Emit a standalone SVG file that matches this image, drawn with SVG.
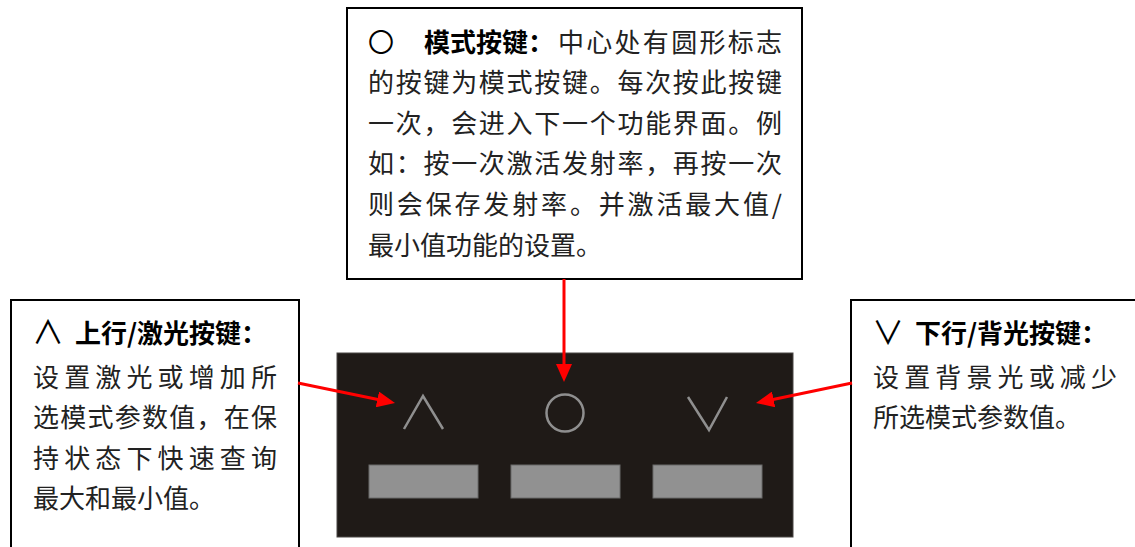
<svg xmlns="http://www.w3.org/2000/svg" width="1135" height="547" viewBox="0 0 1135 547">
<style>
.box{fill:#fff;stroke:#000;stroke-width:2}
.t{font-family:"Noto Sans CJK SC","Liberation Sans",sans-serif;font-size:26px;fill:#222}
.b{font-weight:bold;fill:#000}
.s{font-size:32px;font-weight:normal;fill:#000}
.sym{fill:none;stroke:#8f8f8f;stroke-width:2.5}
.key{fill:#919191;stroke:#6a6a6a;stroke-width:1}
.arr{stroke:#ff0000;stroke-width:3;fill:none}
</style>
<defs>
<marker id="ah" viewBox="0 0 18 16" refX="8" refY="8" markerWidth="18" markerHeight="16" markerUnits="userSpaceOnUse" orient="auto">
<path d="M0,0 L18,8 L0,16 z" fill="#ff0000"/>
</marker>
</defs>
<g id="panel">
<rect x="337" y="353" width="456" height="184" fill="#1f1a17" stroke="#4a4644" stroke-width="1"/>
<polyline class="sym" points="404,429 423,396 443,429"/>
<circle class="sym" cx="565" cy="413" r="18.5"/>
<polyline class="sym" points="688,397 709,430 727,397"/>
<rect class="key" x="369" y="465" width="109" height="33"/>
<rect class="key" x="511" y="465" width="109" height="33"/>
<rect class="key" x="653" y="465" width="109" height="33"/>
</g>
<g id="mode-note">
<rect class="box" x="347" y="8" width="455" height="271"/>
<text class="t"><tspan x="368" y="52" fill="#000">〇</tspan><tspan class="b" x="424" y="52">模式按键：</tspan><tspan x="558" y="52" textLength="224" lengthAdjust="spacing">中心处有圆形标志</tspan></text>
<text class="t" x="368" y="92" textLength="414" lengthAdjust="spacing">的按键为模式按键。每次按此按键</text>
<text class="t" x="368" y="133" textLength="414" lengthAdjust="spacing">一次，会进入下一个功能界面。例</text>
<text class="t" x="368" y="173" textLength="414" lengthAdjust="spacing">如：按一次激活发射率，再按一次</text>
<text class="t" x="368" y="214" textLength="414" lengthAdjust="spacing">则会保存发射率。并激活最大值/</text>
<text class="t" x="368" y="255">最小值功能的设置。</text>
</g>
<g id="up-note">
<rect class="box" x="11" y="300" width="288" height="260"/>
<text class="t"><tspan class="s" x="32" y="344">∧</tspan><tspan class="b" x="75" y="343" textLength="192" lengthAdjust="spacing">上行/激光按键：</tspan></text>
<text class="t" x="33" y="387" textLength="244" lengthAdjust="spacing">设置激光或增加所</text>
<text class="t" x="33" y="427" textLength="244" lengthAdjust="spacing">选模式参数值，在保</text>
<text class="t" x="33" y="468" textLength="244" lengthAdjust="spacing">持状态下快速查询</text>
<text class="t" x="33" y="508">最大和最小值。</text>
</g>
<g id="down-note">
<rect class="box" x="851" y="300" width="300" height="260"/>
<text class="t"><tspan class="s" x="872" y="344">∨</tspan><tspan class="b" x="915" y="343" textLength="192" lengthAdjust="spacing">下行/背光按键：</tspan></text>
<text class="t" x="873" y="387" textLength="244" lengthAdjust="spacing">设置背景光或减少</text>
<text class="t" x="873" y="427">所选模式参数值。</text>
</g>
<g id="connectors">
<line class="arr" x1="564" y1="279" x2="564" y2="372" marker-end="url(#ah)"/>
<line class="arr" x1="298" y1="383" x2="385.2" y2="401" marker-end="url(#ah)"/>
<line class="arr" x1="852" y1="383" x2="765.8" y2="401" marker-end="url(#ah)"/>
</g>
</svg>
